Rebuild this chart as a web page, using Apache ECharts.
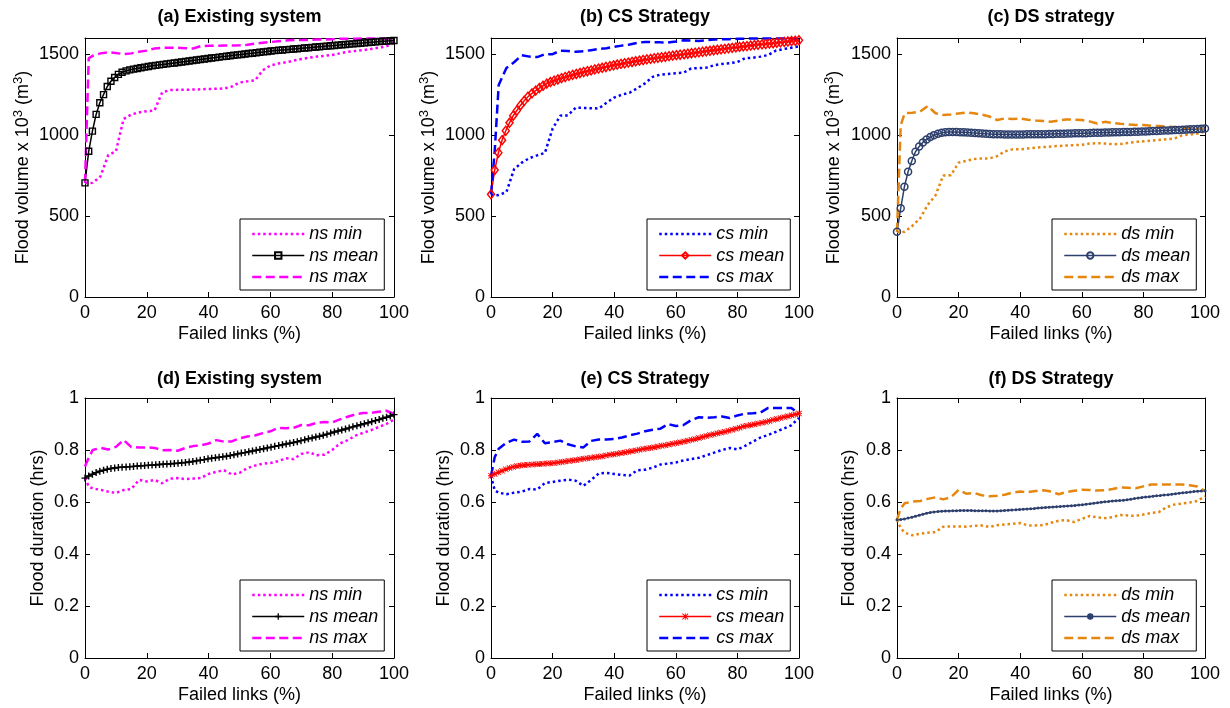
<!DOCTYPE html>
<html><head><meta charset="utf-8">
<script src="https://cdn.jsdelivr.net/npm/echarts@6/dist/echarts.min.js"></script>
<style>html,body{margin:0;padding:0;background:#fff}#c{width:1230px;height:708px}</style>
</head><body><div id="c"></div>
<script>
// ---------- DATA ----------
// x positions (% failed links) of the mean curves
const failedLinksMean = [0,1.2,2.4,3.6,4.8,6.0,7.2,8.4,9.6,10.8,
  12.0,13.3,14.5,15.7,16.9,18.1,19.3,20.5,21.7,22.9,
  24.1,25.3,26.5,27.7,28.9,30.1,31.3,32.5,33.7,34.9,
  36.1,37.3,38.6,39.8,41.0,42.2,43.4,44.6,45.8,47.0,
  48.2,49.4,50.6,51.8,53.0,54.2,55.4,56.6,57.8,59.0,
  60.2,61.4,62.7,63.9,65.1,66.3,67.5,68.7,69.9,71.1,
  72.3,73.5,74.7,75.9,77.1,78.3,79.5,80.7,81.9,83.1,
  84.3,85.5,86.7,88.0,89.2,90.4,91.6,92.8,94.0,95.2,
  96.4,97.6,98.8,100];
// x positions (% failed links) of the min / max curves
const failedLinksRange = [0,1.2,2.5,5,7.5,10,12.5,15,17.5,20,
  22.5,25,27.5,30,32.5,35,37.5,40,42.5,45,
  47.5,50,52.5,55,57.5,60,62.5,65,67.5,70,
  72.5,75,77.5,80,82.5,85,87.5,90,92.5,95,
  97.5,100];
const xTicks = [0,20,40,60,80,100];
const volTicks = [0,500,1000,1500];
const durTicks = [0,0.2,0.4,0.6,0.8,1];

// (a) Existing system - flood volume
const nsVolMin = [705,703,705,745,876,900,1100,1128,1140,1148,
  1152,1265,1278,1280,1280,1282,1283,1285,1286,1288,
  1300,1325,1332,1338,1400,1430,1442,1450,1460,1470,
  1478,1485,1490,1495,1505,1515,1520,1525,1532,1540,
  1548,1572];
const nsVolMean = [705,900,1025,1128,1200,1250,1300,1333,1356,1375,
  1388,1397,1403,1408,1412,1416,1420,1424,1428,1431,
  1434,1437,1440,1443,1446,1449,1452,1455,1458,1461,
  1464,1467,1470,1473,1476,1479,1482,1485,1487,1490,
  1493,1496,1498,1501,1504,1506,1509,1512,1514,1517,
  1520,1522,1524,1526,1528,1530,1532,1534,1536,1538,
  1540,1542,1544,1546,1548,1550,1552,1554,1556,1558,
  1560,1562,1564,1566,1568,1570,1572,1574,1576,1578,
  1580,1581,1583,1585];
const nsVolMax = [705,1475,1490,1505,1512,1508,1500,1505,1515,1522,
  1535,1540,1540,1540,1537,1535,1550,1552,1552,1553,
  1553,1555,1558,1565,1570,1575,1580,1585,1587,1588,
  1588,1590,1590,1592,1595,1595,1596,1597,1597,1597,
  1595,1590];

// (b) CS strategy - flood volume
const csVolMin = [634,628,630,648,790,830,858,875,890,1040,
  1120,1122,1170,1168,1166,1165,1200,1232,1250,1262,
  1290,1320,1360,1374,1378,1382,1386,1412,1414,1417,
  1432,1440,1444,1452,1475,1478,1485,1495,1522,1532,
  1540,1548];
const csVolMean = [634,784,891,969,1027,1076,1120,1152,1185,1212,
  1237,1258,1275,1291,1305,1318,1328,1336,1344,1352,
  1359,1366,1372,1378,1384,1390,1395,1400,1406,1411,
  1416,1421,1426,1431,1436,1440,1444,1448,1452,1456,
  1460,1464,1468,1471,1475,1478,1481,1484,1488,1491,
  1494,1497,1500,1503,1506,1509,1512,1515,1518,1521,
  1524,1527,1530,1533,1536,1539,1542,1545,1548,1550,
  1553,1556,1558,1561,1563,1566,1568,1571,1573,1576,
  1578,1581,1583,1586];
const csVolMax = [634,900,1310,1415,1450,1494,1485,1482,1500,1500,
  1522,1520,1515,1518,1525,1532,1537,1545,1553,1560,
  1570,1576,1575,1573,1572,1578,1586,1584,1582,1587,
  1590,1592,1593,1595,1596,1597,1597,1597,1597,1597,
  1597,1595];

// (c) DS strategy - flood volume
const dsVolMin = [403,400,403,440,486,570,628,750,752,830,
  841,852,856,856,870,900,912,912,918,922,
  926,930,933,936,938,940,948,950,948,944,
  945,952,958,962,966,970,975,978,998,1003,
  1010,1022];
const dsVolMean = [403,548,681,774,840,897,930,955,973,988,
  1000,1008,1014,1018,1020,1020,1019,1018,1017,1016,
  1014,1013,1011,1010,1008,1007,1006,1005,1005,1004,
  1004,1004,1004,1004,1004,1005,1005,1005,1005,1006,
  1006,1007,1007,1008,1008,1009,1010,1010,1011,1011,
  1012,1012,1013,1014,1014,1015,1016,1016,1017,1018,
  1018,1019,1019,1020,1021,1021,1022,1023,1024,1025,
  1026,1027,1028,1029,1030,1031,1032,1033,1034,1036,
  1037,1038,1040,1041];
const dsVolMax = [403,1060,1136,1138,1145,1180,1135,1125,1128,1134,
  1140,1135,1127,1115,1093,1103,1100,1103,1095,1090,
  1088,1082,1090,1097,1095,1093,1085,1072,1082,1075,
  1070,1066,1063,1062,1058,1056,1053,1050,1046,1044,
  1043,1040];

// (d) Existing system - flood duration
const nsDurMin = [0.692,0.660,0.652,0.647,0.640,0.635,0.646,0.650,0.685,0.679,
  0.685,0.672,0.690,0.692,0.688,0.690,0.692,0.708,0.716,0.722,
  0.706,0.712,0.730,0.740,0.747,0.750,0.757,0.768,0.765,0.785,
  0.791,0.780,0.782,0.800,0.825,0.838,0.855,0.866,0.876,0.888,
  0.900,0.917];
const nsDurMean = [0.692,0.700,0.707,0.713,0.718,0.722,0.726,0.729,0.731,0.733,
  0.734,0.735,0.736,0.737,0.738,0.739,0.740,0.741,0.742,0.743,
  0.744,0.745,0.746,0.747,0.748,0.749,0.751,0.752,0.754,0.756,
  0.758,0.761,0.763,0.766,0.768,0.770,0.772,0.774,0.776,0.779,
  0.782,0.785,0.788,0.790,0.793,0.796,0.799,0.802,0.805,0.808,
  0.811,0.814,0.817,0.820,0.823,0.826,0.829,0.832,0.836,0.839,
  0.843,0.846,0.850,0.853,0.857,0.861,0.865,0.869,0.873,0.877,
  0.881,0.885,0.889,0.893,0.897,0.901,0.905,0.909,0.913,0.917,
  0.922,0.926,0.931,0.936];
const nsDurMax = [0.737,0.770,0.800,0.808,0.802,0.812,0.838,0.811,0.810,0.810,
  0.808,0.799,0.800,0.797,0.808,0.815,0.818,0.825,0.838,0.832,
  0.833,0.845,0.852,0.856,0.865,0.872,0.885,0.884,0.885,0.896,
  0.895,0.905,0.908,0.906,0.918,0.928,0.937,0.942,0.943,0.947,
  0.951,0.938];

// (e) CS strategy - flood duration
const csDurMin = [0.701,0.645,0.636,0.630,0.636,0.640,0.650,0.648,0.673,0.677,
  0.682,0.686,0.682,0.662,0.685,0.710,0.712,0.708,0.704,0.702,
  0.722,0.724,0.732,0.744,0.748,0.752,0.760,0.765,0.770,0.780,
  0.790,0.800,0.808,0.802,0.816,0.832,0.848,0.858,0.870,0.882,
  0.895,0.923];
const csDurMean = [0.701,0.708,0.714,0.720,0.726,0.731,0.735,0.738,0.740,0.742,
  0.743,0.744,0.745,0.746,0.747,0.748,0.749,0.750,0.752,0.754,
  0.756,0.758,0.760,0.762,0.764,0.766,0.768,0.770,0.772,0.774,
  0.776,0.779,0.782,0.784,0.786,0.788,0.790,0.793,0.796,0.798,
  0.801,0.804,0.806,0.808,0.811,0.813,0.816,0.818,0.821,0.824,
  0.827,0.830,0.833,0.836,0.839,0.842,0.846,0.850,0.854,0.858,
  0.861,0.864,0.867,0.870,0.874,0.878,0.882,0.886,0.890,0.893,
  0.896,0.899,0.902,0.905,0.908,0.912,0.916,0.919,0.923,0.927,
  0.930,0.934,0.937,0.940];
const csDurMax = [0.701,0.772,0.805,0.828,0.840,0.832,0.833,0.862,0.826,0.830,
  0.836,0.822,0.814,0.810,0.835,0.840,0.840,0.842,0.848,0.856,
  0.863,0.872,0.878,0.882,0.900,0.892,0.896,0.915,0.926,0.924,
  0.926,0.929,0.923,0.933,0.940,0.941,0.944,0.962,0.962,0.962,
  0.962,0.940];

// (f) DS strategy - flood duration
const dsDurMin = [0.532,0.500,0.482,0.472,0.478,0.482,0.484,0.505,0.506,0.506,
  0.505,0.508,0.510,0.504,0.511,0.514,0.516,0.519,0.510,0.510,
  0.511,0.520,0.528,0.530,0.523,0.535,0.546,0.541,0.538,0.542,
  0.550,0.548,0.547,0.552,0.558,0.561,0.580,0.590,0.594,0.598,
  0.604,0.622];
const dsDurMean = [0.532,0.533,0.535,0.538,0.541,0.545,0.549,0.553,0.557,0.560,
  0.562,0.563,0.564,0.565,0.565,0.566,0.566,0.567,0.567,0.567,
  0.567,0.566,0.566,0.566,0.566,0.565,0.565,0.565,0.566,0.567,
  0.568,0.569,0.570,0.571,0.572,0.573,0.574,0.575,0.577,0.578,
  0.579,0.580,0.581,0.582,0.583,0.584,0.585,0.586,0.587,0.588,
  0.589,0.591,0.593,0.595,0.597,0.599,0.601,0.602,0.604,0.605,
  0.606,0.607,0.609,0.611,0.613,0.615,0.617,0.619,0.620,0.622,
  0.624,0.625,0.627,0.628,0.630,0.632,0.634,0.636,0.637,0.638,
  0.640,0.641,0.642,0.643];
const dsDurMax = [0.532,0.575,0.595,0.602,0.604,0.612,0.618,0.610,0.618,0.647,
  0.632,0.635,0.626,0.622,0.624,0.628,0.636,0.640,0.638,0.642,
  0.645,0.640,0.630,0.638,0.643,0.647,0.646,0.644,0.645,0.650,
  0.656,0.655,0.653,0.660,0.667,0.667,0.667,0.667,0.667,0.664,
  0.660,0.642];

// ---------- CHART ----------
const FONT = '"Liberation Sans", Arial, Helvetica, sans-serif';
const FS = 18;
const MAGENTA = '#FF00FF', BLUE = '#0000FF', RED = '#FF0000', BLACK = '#000000';
const ORANGE = '#E5870F', NAVY = '#2D3F6C';
const volName = 'Flood volume x 10{sup|3} (m{sup|3})';
const durName = 'Flood duration (hrs)';
const PLUS = 'path://M4,0H6V4H10V6H6V10H4V6H0V4H4Z';
const STAR = 'path://M4.3,0H5.7V4.3H10V5.7H5.7V10H4.3V5.7H0V4.3H4.3Z M1,0L5,4L9,0L10,1L6,5L10,9L9,10L5,6L1,10L0,9L4,5L0,1Z';
const DOT = [2.5, 3], DASH = [9, 4.5];

const panels = [
  {title:'(a) Existing system', tag:'ns', rect:[85,38,309,259], yTicks:volTicks, ymax:1600, yname:volName, ygap:51, leg:[240,219],
   min:nsVolMin, mean:nsVolMean, max:nsVolMax, rc:MAGENTA, mc:BLACK, sym:'rect', ss:6, fill:'transparent', bw:1.4, lw:1.5},
  {title:'(b) CS Strategy', tag:'cs', rect:[491,38,308,259], yTicks:volTicks, ymax:1600, yname:volName, ygap:51, leg:[647,219],
   min:csVolMin, mean:csVolMean, max:csVolMax, rc:BLUE, mc:RED, sym:'diamond', ss:[7,9], fill:'transparent', bw:1.5, lw:1.5},
  {title:'(c) DS strategy', tag:'ds', rect:[897,38,308,259], yTicks:volTicks, ymax:1600, yname:volName, ygap:52, leg:[1052,219],
   min:dsVolMin, mean:dsVolMean, max:dsVolMax, rc:ORANGE, mc:NAVY, sym:'circle', ss:7, fill:'transparent', bw:1.5, lw:1.5},
  {title:'(d) Existing system', tag:'ns', rect:[85,398,309,260], yTicks:durTicks, ymax:1, yname:durName, ygap:38, leg:[240,580],
   min:nsDurMin, mean:nsDurMean, max:nsDurMax, rc:MAGENTA, mc:BLACK, sym:PLUS, ss:7, fill:BLACK, bw:0, lw:1.5},
  {title:'(e) CS Strategy', tag:'cs', rect:[491,398,308,260], yTicks:durTicks, ymax:1, yname:durName, ygap:38, leg:[647,580],
   min:csDurMin, mean:csDurMean, max:csDurMax, rc:BLUE, mc:RED, sym:STAR, ss:6, fill:RED, bw:0, lw:1.5},
  {title:'(f) DS Strategy', tag:'ds', rect:[897,398,308,260], yTicks:durTicks, ymax:1, yname:durName, ygap:39, leg:[1052,580],
   min:dsDurMin, mean:dsDurMean, max:dsDurMax, rc:ORANGE, mc:NAVY, sym:'circle', ss:3, fill:NAVY, bw:0, lw:1.5}
];

const pairs = (xs, ys) => xs.map((x, i) => [x, ys[i]]);
const grid = [], xAxis = [], yAxis = [], series = [], legend = [], graphic = [];
const hiddenSym = {color:'rgba(0,0,0,0)', borderColor:'rgba(0,0,0,0)', borderWidth:0};

panels.forEach((p, i) => {
  const [l, t, w, h] = p.rect;
  grid.push({left:l, top:t, width:w, height:h, containLabel:false});
  const tick = {show:true, inside:true, length:5, lineStyle:{color:'#000', width:1}};
  const line = {show:true, onZero:false, lineStyle:{color:'#000', width:1}};
  const yInt = p.yTicks[1] - p.yTicks[0];
  xAxis.push({gridIndex:i, type:'value', position:'bottom', min:xTicks[0], max:xTicks[xTicks.length-1], interval:xTicks[1]-xTicks[0],
    axisLine:line, axisTick:tick, splitLine:{show:false},
    axisLabel:{fontSize:FS, color:'#000', fontFamily:FONT, margin:7, formatter: v => String(v)},
    name:'Failed links (%)', nameLocation:'middle', nameGap:28,
    nameTextStyle:{fontSize:FS, color:'#000', fontFamily:FONT}});
  xAxis.push({gridIndex:i, type:'value', position:'top', min:xTicks[0], max:xTicks[xTicks.length-1], interval:xTicks[1]-xTicks[0],
    axisLine:line, axisTick:tick, splitLine:{show:false}, axisLabel:{show:false}});
  yAxis.push({gridIndex:i, type:'value', position:'left', min:p.yTicks[0], max:p.ymax, interval:yInt,
    axisLine:line, axisTick:tick, splitLine:{show:false},
    axisLabel:{fontSize:FS, color:'#000', fontFamily:FONT, margin:6,
      formatter: v => String(v),
      showMaxLabel: p.ymax === p.yTicks[p.yTicks.length-1]},
    name:p.yname, nameLocation:'middle', nameRotate:90, nameGap:p.ygap,
    nameTextStyle:{fontSize:FS, color:'#000', fontFamily:FONT,
      rich:{sup:{fontSize:13, color:'#000', fontFamily:FONT, padding:[0,0,9,0]}}}});
  yAxis.push({gridIndex:i, type:'value', position:'right', min:p.yTicks[0], max:p.ymax, interval:yInt,
    axisLine:line, axisTick:tick, splitLine:{show:false}, axisLabel:{show:false}});

  const base = {type:'line', xAxisIndex:2*i, yAxisIndex:2*i, animation:false, silent:true, z:2};
  const nMin = i + '|' + p.tag + ' min', nMean = i + '|' + p.tag + ' mean', nMax = i + '|' + p.tag + ' max';
  series.push(Object.assign({}, base, {name:nMin, data:pairs(failedLinksRange, p.min), symbol:'none',
    lineStyle:{color:p.rc, width:2.5, type:DOT}, itemStyle:{color:p.rc}}));
  series.push(Object.assign({}, base, {name:nMean, data:pairs(failedLinksMean, p.mean), symbol:p.sym, symbolSize:p.ss,
    showSymbol:true, showAllSymbol:true,
    lineStyle:{color:p.mc, width:p.lw}, itemStyle:{color:p.fill, borderColor:p.mc, borderWidth:p.bw}}));
  series.push(Object.assign({}, base, {name:nMax, data:pairs(failedLinksRange, p.max), symbol:'none',
    lineStyle:{color:p.rc, width:2.5, type:DASH}, itemStyle:{color:p.rc}}));

  legend.push({left:p.leg[0], top:p.leg[1], orient:'vertical',
    data:[
      {name:nMin, itemStyle:hiddenSym, lineStyle:{color:p.rc, width:2.5, type:DOT}},
      {name:nMean, lineStyle:{color:p.mc, width:p.lw, type:'solid'}},
      {name:nMax, itemStyle:hiddenSym, lineStyle:{color:p.rc, width:2.5, type:DASH}}],
    formatter: n => n.split('|')[1], selectedMode:false,
    itemWidth:52, itemHeight:8, itemGap:3.5, padding:[6,6,4,11],
    borderColor:'#000', borderWidth:1, backgroundColor:'#fff',
    textStyle:{fontSize:FS, fontStyle:'italic', color:'#000', fontFamily:FONT}});

  graphic.push({type:'text', x:l + w/2, y:(i < 3 ? 17 : 379),
    style:{text:p.title, fill:'#000', font:'bold ' + FS + 'px ' + FONT, textAlign:'center', textVerticalAlign:'middle'}});
});

const chart = echarts.init(document.getElementById('c'), null, {renderer:'canvas'});
chart.setOption({animation:false, backgroundColor:'#fff', grid, xAxis, yAxis, series, legend, graphic});
</script>
</body></html>
